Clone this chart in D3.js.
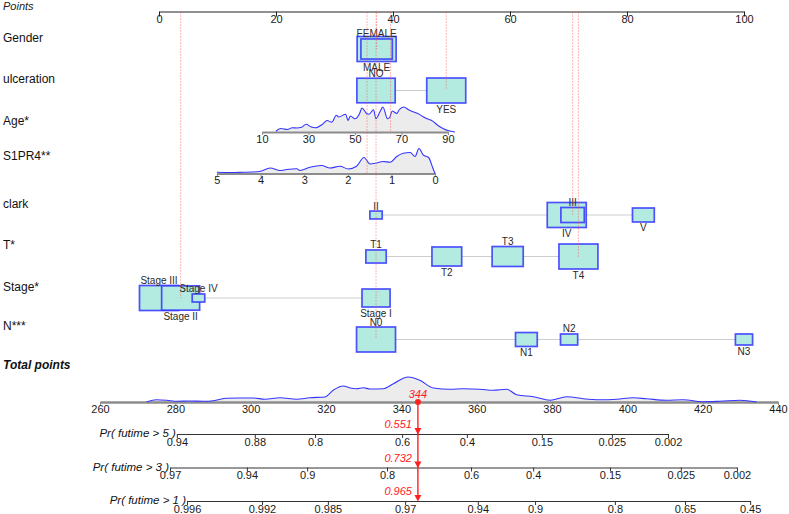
<!DOCTYPE html>
<html>
<head>
<meta charset="utf-8">
<script src="https://cdn.jsdelivr.net/npm/d3@7"></script>
<style>
  body { margin: 0; background: #fff; }
  svg { display: block; }
</style>
</head>
<body>
<div id="chart"></div>
<script>
// ---- data ----
const rowNames = ['Gender', 'ulceration', 'Age*', 'S1PR4**', 'clark', 'T*', 'Stage*', 'N***'];
const pointTicks = [0, 20, 40, 60, 80, 100];

const genderLevels = ['FEMALE', 'MALE'];
const genderPoints = [37.2, 37.2];
const genderFreq = [110, 170];

const ulcerLevels = ['NO', 'YES'];
const ulcerPoints = [37.1, 49.1];
const ulcerFreq = [140, 145];

const clarkLevels = ['II', 'III', 'IV', 'V'];
const clarkPoints = [37.1, 70.7, 69.7, 82.8];
const clarkFreq = [15, 54, 150, 47];

const tLevels = ['T1', 'T2', 'T3', 'T4'];
const tPoints = [37.1, 49.2, 59.6, 71.7];
const tFreq = [30, 64, 70, 110];

const stageLevels = ['Stage I', 'Stage II', 'Stage III', 'Stage IV'];
const stagePoints = [37.1, 3.7, 0, 6.75];
const stageFreq = [70, 128, 135, 14];

const nLevels = ['N0', 'N1', 'N2', 'N3'];
const nPoints = [37.1, 62.8, 70.1, 100];
const nFreq = [180, 56, 35, 35];

// continuous: value range -> points range
const ageTicks = [10, 30, 50, 70, 90];
const ageRange = [10, 90];
const agePointRange = [17.6, 49.4];
const ageDensity = [
  [16, 0.03], [18, 0.14], [21, 0.10], [23, 0.17], [25, 0.16], [27, 0.19], [29, 0.31],
  [31, 0.21], [33, 0.17], [36, 0.31], [38, 0.46], [40, 0.39], [42, 0.67], [43, 0.60],
  [46, 0.71], [47, 0.46], [48, 0.64], [50, 0.53], [52, 0.74], [53, 0.96], [55, 0.74],
  [56, 0.71], [58, 0.89], [59, 0.53], [61, 0.86], [62, 1.0], [64, 0.53], [65, 0.60],
  [66, 0.84], [68, 0.74], [69, 0.89], [71, 1.0], [73, 0.89], [75, 0.81], [77, 0.74],
  [79, 0.63], [81, 0.53], [83, 0.46], [86, 0.24], [88, 0.13], [90, 0.06], [93, 0.0]
];

const s1pr4Ticks = [5, 4, 3, 2, 1, 0];
const s1pr4Range = [0, 5];
const s1pr4PointRange = [47.2, 9.9];
const s1pr4Density = [
  [5.0, 0.05], [4.7, 0.04], [4.4, 0.05], [4.17, 0.06], [4.0, 0.09], [3.78, 0.22],
  [3.55, 0.12], [3.4, 0.16], [3.17, 0.19], [3.1, 0.12], [2.87, 0.25], [2.6, 0.32],
  [2.41, 0.22], [2.18, 0.29], [1.99, 0.18], [1.8, 0.29], [1.63, 0.64], [1.49, 0.38],
  [1.34, 0.42], [1.19, 0.48], [1.03, 0.45], [0.88, 0.68], [0.73, 0.81], [0.57, 0.84],
  [0.46, 0.68], [0.37, 1.0], [0.27, 0.74], [0.15, 0.64], [0.04, 0.16], [0.0, 0.0]
];

const totalTicks = [260, 280, 300, 320, 340, 360, 380, 400, 420, 440];
const totalDensity = [
  [272.4, 0.0], [275, 0.09], [277.7, 0.07], [280.4, 0.03], [283.9, 0.04], [287.4, 0.03],
  [290.1, 0.05], [293.6, 0.15], [297.2, 0.16], [300.7, 0.16], [303.8, 0.11], [307.8, 0.17],
  [312.2, 0.11], [315.7, 0.17], [319.7, 0.2], [321.9, 0.47], [324.6, 0.64], [326.4, 0.56],
  [328.1, 0.53], [329.9, 0.57], [331.7, 0.52], [335.2, 0.53], [337.9, 0.73], [341.8, 1.0],
  [344.9, 0.87], [348.5, 0.56], [352.9, 0.51], [356.4, 0.53], [360.9, 0.51], [364.4, 0.47],
  [368, 0.51], [370.6, 0.29], [375, 0.21], [379.5, 0.07], [383.9, 0.21], [388.3, 0.13],
  [392.7, 0.09], [397.2, 0.11], [401.6, 0.17], [405.1, 0.13], [410.4, 0.07], [414.8, 0.09],
  [420.1, 0.01], [424.6, 0.03], [429.9, 0.07], [434.3, 0.0]
];

const probNames = ['Pr( futime > 5 )', 'Pr( futime > 3 )', 'Pr( futime > 1 )'];
const pr5Labels = ['0.94', '0.88', '0.8', '0.6', '0.4', '0.15', '0.025', '0.002'];
const pr5Points = [280.4, 301.1, 317.1, 340.2, 357.4, 377.3, 395.9, 410.8];
const pr3Labels = ['0.97', '0.94', '0.9', '0.8', '0.6', '0.4', '0.15', '0.025', '0.002'];
const pr3Points = [278.6, 299.0, 315.0, 336.2, 358.5, 375.0, 395.4, 414.2, 429.1];
const pr1Labels = ['0.996', '0.992', '0.985', '0.97', '0.94', '0.9', '0.8', '0.65', '0.45'];
const pr1Points = [283.1, 303.0, 320.5, 341.0, 360.3, 375.5, 396.7, 415.3, 432.6];

// the observation that is marked in red
const obsGender = 'FEMALE';
const obsUlcer = 'YES';
const obsAge = 65.3;
const obsS1pr4 = 1.56;
const obsClark = 'III';
const obsT = 'T4';
const obsStage = 'Stage II';
const obsN = 'N0';
const obsTotal = 344.4;
const obsProbs = ['0.551', '0.732', '0.965'];

// ---- layout ----
const W = 789, H = 514;
const FONT = '"Liberation Sans", Arial, Helvetica, sans-serif';
const BLUE = '#3434ff';
const BOX_FILL = '#b3ebe0';
const RED = '#ff2020';
const boxH = 25, boxRatio = 1.56, densH = 25;
const topAxisY = 11.5, totalAxisY = 402;
const probY = [434, 467.5, 501];
// a few row names sit a little higher than the rest
const labelLift = { 'S1PR4**': 6, 'N***': 2 };

const svg = d3.select('#chart').append('svg')
  .attr('width', W).attr('height', H)
  .attr('font-family', FONT);

svg.append('rect').attr('width', W).attr('height', H).attr('fill', '#fff');

const x = d3.scaleLinear().domain([0, 100]).range([159, 744]);
const xTotal = d3.scaleLinear().domain([260, 440]).range([100, 778]);
const rowY = d3.scalePoint().domain(rowNames).range([49, 339.5]);

const factors = [
  { row: 'Gender', levels: genderLevels, points: genderPoints, freq: genderFreq, obs: obsGender },
  { row: 'ulceration', levels: ulcerLevels, points: ulcerPoints, freq: ulcerFreq, obs: obsUlcer },
  { row: 'clark', levels: clarkLevels, points: clarkPoints, freq: clarkFreq, obs: obsClark },
  { row: 'T*', levels: tLevels, points: tPoints, freq: tFreq, obs: obsT },
  { row: 'Stage*', levels: stageLevels, points: stagePoints, freq: stageFreq, obs: obsStage },
  { row: 'N***', levels: nLevels, points: nPoints, freq: nFreq, obs: obsN }
];

const ageScale = d3.scaleLinear().domain(ageRange).range(agePointRange.map(x));
const s1pr4Scale = d3.scaleLinear().domain(s1pr4Range).range(s1pr4PointRange.map(x));
const ageToPts = d3.scaleLinear().domain(ageRange).range(agePointRange);
const s1pr4ToPts = d3.scaleLinear().domain(s1pr4Range).range(s1pr4PointRange);

function styleAxis(g, color, width, size) {
  g.attr('font-family', FONT).attr('font-size', size);
  g.select('.domain').attr('stroke', color).attr('stroke-width', width);
  g.selectAll('.tick line').attr('stroke', color);
  g.selectAll('.tick text').attr('fill', '#1a1a1a');
}

// ---- top points axis ----
svg.append('text')
  .attr('x', 3).attr('y', 9.5)
  .attr('font-size', 11).attr('font-style', 'italic').attr('fill', '#222')
  .text('Points');

svg.append('g')
  .attr('transform', `translate(0,${topAxisY})`)
  .call(d3.axisBottom(x).tickValues(pointTicks).tickSize(5).tickSizeOuter(0).tickPadding(-1))
  .call(g => styleAxis(g, '#222', 1, 11));

// ---- row labels ----
svg.selectAll('text.row')
  .data(rowNames)
  .join('text')
  .attr('class', 'row')
  .attr('x', 3)
  .attr('y', d => rowY(d) - 7.5 - (labelLift[d] || 0))
  .attr('font-size', 12)
  .attr('fill', '#111')
  .text(d => d);

// ---- categorical rows ----
factors.forEach(f => {
  const y = rowY(f.row);
  const items = f.levels.map((lv, i) => ({ lv, p: f.points[i], fr: f.freq[i] }));
  const maxF = d3.max(items, d => d.fr);
  items.forEach(d => {
    d.h = boxH * Math.sqrt(d.fr / maxF);
    d.w = d.h * boxRatio;
  });
  // labels alternate above / below along the axis
  items.slice().sort((a, b) => a.p - b.p).forEach((d, i) => { d.above = i % 2 === 0; });

  svg.append('line')
    .attr('x1', x(d3.min(items, d => d.p))).attr('x2', x(d3.max(items, d => d.p)))
    .attr('y1', y).attr('y2', y)
    .attr('stroke', '#cdcdcd').attr('stroke-width', 1.2);

  // bigger boxes first, so small ones stay visible
  items.slice().sort((a, b) => b.fr - a.fr).forEach(d => {
    svg.append('rect')
      .attr('x', x(d.p) - d.w / 2).attr('y', y - d.h / 2)
      .attr('width', d.w).attr('height', d.h)
      .attr('fill', BOX_FILL)
      .attr('stroke', BLUE).attr('stroke-width', 1.7).attr('stroke-opacity', 0.85);
  });

  items.forEach(d => {
    svg.append('text')
      .attr('x', x(d.p))
      .attr('y', d.above ? y - d.h / 2 - 1.5 : y + d.h / 2 + 9.5)
      .attr('text-anchor', 'middle')
      .attr('font-size', 10)
      .attr('fill', '#2a2a2a')
      .text(d.lv);
  });
});

// ---- continuous rows with densities ----
function densityRow(scale, data, ticks, y, axisWidth) {
  const area = d3.area()
    .x(d => scale(d[0])).y0(y).y1(d => y - densH * d[1])
    .curve(d3.curveMonotoneX);
  const line = d3.line()
    .x(d => scale(d[0])).y(d => y - densH * d[1])
    .curve(d3.curveMonotoneX);
  svg.append('path').attr('d', area(data)).attr('fill', '#ececec');
  svg.append('g')
    .attr('transform', `translate(0,${y})`)
    .call(d3.axisBottom(scale).tickValues(ticks).tickFormat(d3.format('d'))
      .tickSize(3).tickSizeOuter(0).tickPadding(0))
    .call(g => styleAxis(g, '#8c8c8c', axisWidth, 11));
  svg.append('path').attr('d', line(data))
    .attr('fill', 'none').attr('stroke', BLUE).attr('stroke-width', 1.1);
}

densityRow(ageScale, ageDensity, ageTicks, rowY('Age*'), 2);
densityRow(s1pr4Scale, s1pr4Density, s1pr4Ticks, rowY('S1PR4**'), 2);

// ---- total points ----
svg.append('text')
  .attr('x', 3).attr('y', 369)
  .attr('font-size', 12).attr('font-style', 'italic').attr('font-weight', 'bold')
  .attr('fill', '#111')
  .text('Total points');

densityRow(xTotal, totalDensity, totalTicks, totalAxisY, 2.5);

// ---- probability axes ----
const probAxes = [
  { labels: pr5Labels, pts: pr5Points },
  { labels: pr3Labels, pts: pr3Points },
  { labels: pr1Labels, pts: pr1Points }
];

probAxes.forEach((a, i) => {
  const ext = d3.extent(a.pts);
  const sc = d3.scaleLinear().domain(ext).range(ext.map(xTotal));
  svg.append('g')
    .attr('transform', `translate(0,${probY[i]})`)
    .call(d3.axisBottom(sc).tickValues(a.pts).tickFormat((d, k) => a.labels[k])
      .tickSize(4).tickSizeOuter(0).tickPadding(0))
    .call(g => styleAxis(g, '#333', 1, 11));
  svg.append('text')
    .attr('x', xTotal(ext[0]) - 1).attr('y', probY[i] + 3)
    .attr('text-anchor', 'end')
    .attr('font-size', 11.5).attr('font-style', 'italic').attr('fill', '#111')
    .text(probNames[i]);
});

// ---- observation: dotted guides ----
const guides = factors.map(f => ({ p: f.points[f.levels.indexOf(f.obs)], y: rowY(f.row) }));
guides.push({ p: ageToPts(obsAge), y: rowY('Age*') });
guides.push({ p: s1pr4ToPts(obsS1pr4), y: rowY('S1PR4**') });

svg.selectAll('line.guide')
  .data(guides)
  .join('line')
  .attr('class', 'guide')
  .attr('x1', d => x(d.p)).attr('x2', d => x(d.p))
  .attr('y1', topAxisY + 1).attr('y2', d => d.y)
  .attr('stroke', '#ff4d4d').attr('stroke-opacity', 0.8)
  .attr('stroke-width', 1).attr('stroke-dasharray', '1,2');

// ---- observation: total and probabilities ----
const tx = xTotal(obsTotal);
svg.append('line')
  .attr('x1', tx).attr('x2', tx)
  .attr('y1', totalAxisY).attr('y2', probY[2] - 3)
  .attr('stroke', RED).attr('stroke-width', 1.4);
svg.append('circle').attr('cx', tx).attr('cy', totalAxisY).attr('r', 3).attr('fill', RED);
svg.append('text')
  .attr('x', tx).attr('y', totalAxisY - 4)
  .attr('text-anchor', 'middle')
  .attr('font-size', 11).attr('font-style', 'italic').attr('fill', RED)
  .text(Math.round(obsTotal));

probY.forEach((py, i) => {
  svg.append('path')
    .attr('d', `M${tx - 3.5},${py - 6}L${tx + 3.5},${py - 6}L${tx},${py + 0.5}Z`)
    .attr('fill', RED);
  svg.append('text')
    .attr('x', tx - 6).attr('y', py - 6)
    .attr('text-anchor', 'end')
    .attr('font-size', 11).attr('font-style', 'italic').attr('fill', RED)
    .text(obsProbs[i]);
});
</script>
</body>
</html>
